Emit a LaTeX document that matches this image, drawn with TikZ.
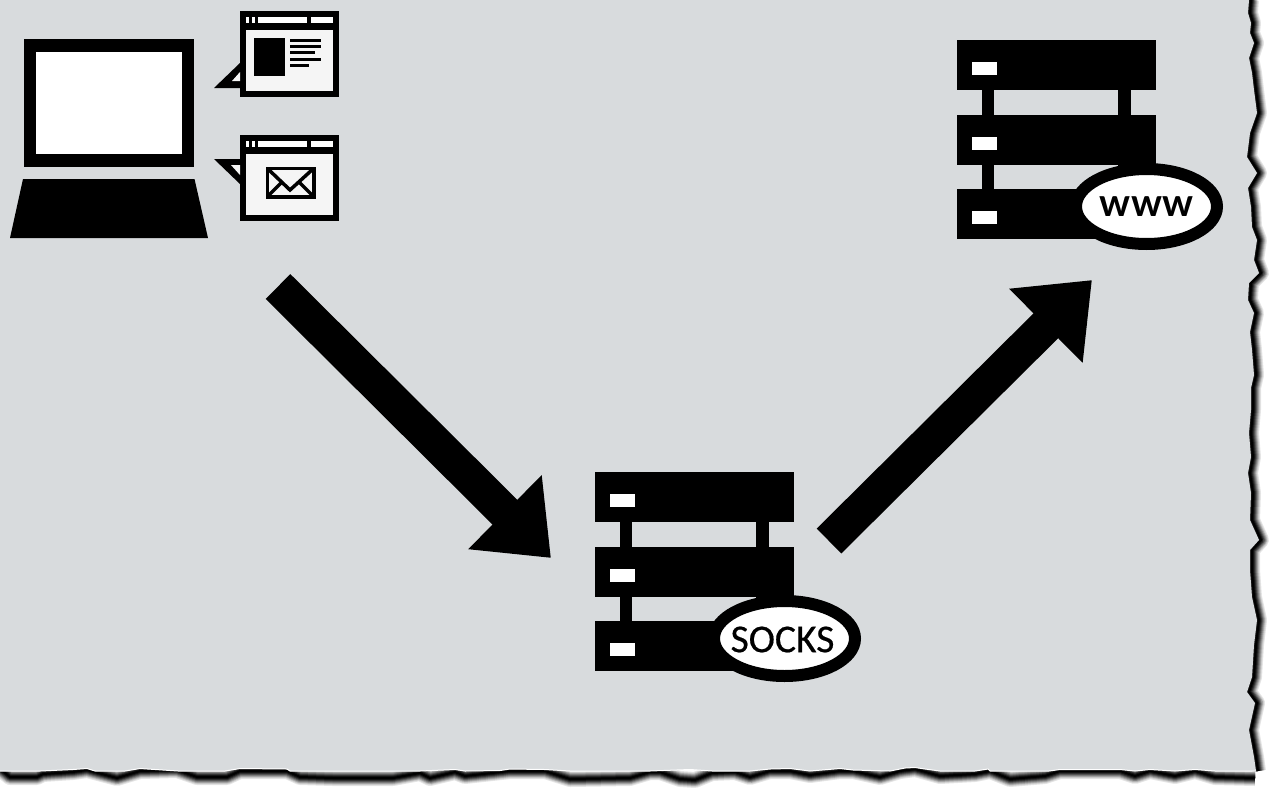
\documentclass[tikz,border=0pt]{standalone}
\usepackage{fontspec}
\setmainfont{Lato}
\newfontfamily\badgefont[FakeBold=0.5]{Carlito}
\usetikzlibrary{arrows.meta}
\usetikzlibrary{shapes.geometric}
\definecolor{paper}{HTML}{D8DBDD}
\definecolor{pane}{HTML}{F5F5F5}
\tikzset{x=.02cm, y=-.02cm,
 solid/.style={fill=black, draw=none},
 pane/.style={fill=pane, draw=none},
 bigarrow/.style={line width=.7cm, -{Triangle[length=1.3cm, width=2cm]}},
 badge/.style={ellipse, draw=black, fill=white, line width=.24cm, inner sep=0pt,
  minimum width=2.82cm, minimum height=1.5cm},
 }
% torn edge of the sheet, top right to bottom right
\newcommand{\rightedge}{(1249,0) -- (1248,13) -- (1251,23) -- (1250,33) -- (1254,43) -- (1249,58)
 -- (1252,73) -- (1254,90) -- (1257,113) -- (1250,133) -- (1247,157) -- (1257,173) -- (1248,188)
 -- (1251,207) -- (1252,227) -- (1257,240) -- (1254,260) -- (1259,273) -- (1249,283) -- (1248,300)
 -- (1254,313) -- (1250,332) -- (1252,350) -- (1254,375) -- (1251,388) -- (1251,410) -- (1249,433)
 -- (1251,457) -- (1248,473) -- (1251,493) -- (1250,520) -- (1259,540) -- (1250,550) -- (1250,570)
 -- (1252,597) -- (1257,620) -- (1254,645) -- (1252,677) -- (1247,692) -- (1255,703) -- (1249,730)
 -- (1254,757) -- (1256,771)}
\newcommand{\bottomedge}{(1256,771) -- (1215,771) -- (1195,769.5) -- (1175,771) -- (1150,769.5)
 -- (1135,771) -- (1120,769.5) -- (1060,769.5) -- (1049,771) -- (990,771) -- (988,769) -- (975,771)
 -- (940,771) -- (925,769) -- (915,767.5) -- (905,768) -- (890,771) -- (853,770) -- (840,768.5)
 -- (810,771) -- (790,768.5) -- (770,769) -- (750,771) -- (712,771) -- (690,769.5) -- (650,771)
 -- (570,771) -- (545,769.5) -- (510,769) -- (500,770.5) -- (465,771) -- (455,769.5) -- (420,771)
 -- (290,771) -- (287,769) -- (240,768.5) -- (225,771) -- (178,771) -- (140,768.5) -- (125,771)
 -- (95,771) -- (87,768.5) -- (73,769.5) -- (40,771) -- (0,771)}
% shadow under the bottom edge, left to right
\newcommand{\bottomshadow}{(0,769) -- (10,777) -- (37,777) -- (43,774) -- (73,772) -- (87,770)
 -- (117,778) -- (140,771) -- (177,770) -- (197,777) -- (227,777) -- (240,771) -- (287,771)
 -- (300,777) -- (333,778) -- (393,778) -- (420,773) -- (430,778) -- (455,772) -- (465,776)
 -- (510,771) -- (545,771) -- (570,779) -- (630,778) -- (650,772) -- (660,772) -- (680,779)
 -- (695,780) -- (712,773) -- (735,772) -- (750,777) -- (770,771) -- (790,771) -- (810,775)
 -- (840,771) -- (853,771) -- (880,777) -- (900,771) -- (915,769) -- (940,776) -- (975,774)
 -- (990,771) -- (1010,779) -- (1045,776) -- (1060,771) -- (1120,771) -- (1135,776) -- (1150,771)
 -- (1175,776) -- (1195,771) -- (1215,777) -- (1255,778)}
% browser window: frame, title bar and pane, top left at (#1,#2), #3 names it
\newcommand{\appwindow}[3]{
 \node[solid, minimum width=1.98cm, minimum height=1.72cm, inner sep=0pt, anchor=north west] (#3) at (#1,#2) {};
 \fill[pane] (#1+6,#2+19) rectangle (#1+93,#2+80);
 \fill[white] (#1+6,#2+6) rectangle (#1+9,#2+12);
 \fill[white] (#1+12,#2+6) rectangle (#1+15,#2+12);
 \fill[white] (#1+18,#2+6) rectangle (#1+67,#2+12);
 \fill[white] (#1+71,#2+6) rectangle (#1+93,#2+12);
}
% server rack with its badge, top left at (#1,#2), #3 names the badge
\newcommand{\rack}[3]{
 \fill (#1+25,#2+50) rectangle (#1+37,#2+149);
 \fill (#1+161,#2+50) rectangle (#1+174,#2+149);
 \foreach \gap in {0,75,149} {
  \fill (#1,#2+\gap) rectangle (#1+199,#2+\gap+50);
  \fill[white] (#1+15,#2+\gap+22) rectangle (#1+40,#2+\gap+35);
 }
 \node[badge] (#3) at (#1+189.5,#2+166.5) {};
}
\begin{document}
\begin{tikzpicture}
        \useasboundingbox (0,0) rectangle (1269,789);
        % sheet
        \foreach \w/\g in {16/10, 14/20, 12/35, 10/50, 8/65, 6/80, 4/92, 2/100} {
            \draw[black!\g, line width=\w*.02cm, line join=round] [shift={(2,0)}] \rightedge;
            \draw[black!\g, line width=\w*.02cm, line join=round] \bottomshadow;
        }
        \fill[paper] (0,0) -- \rightedge -- \bottomedge -- cycle;
        \draw[white, line width=.02cm] \bottomedge;
        % laptop
        \node[draw=black, fill=white, line width=.25cm, minimum width=3.16cm, minimum height=2.3cm, inner sep=0pt] (screen) at (109,103) {};
        \fill (23,179) -- (194.5,179) -- (208,238) -- (10,238) -- cycle;
        % web page window
        \appwindow{240}{11}{webwin}
        \fill (214,88) -- (240,63) -- (240,88) -- cycle;
        \fill[pane] (232,81) -- (240,72) -- (240,81) -- cycle;
        \fill (254,38) rectangle (285,76);
        \foreach \ly/\lx in {40/321, 46/321, 52/315, 59/321, 65/309} {
            \fill (290,\ly-1.5) rectangle (\lx,\ly+1.5);
        }
        % mail window
        \appwindow{240}{135}{mailwin}
        \fill (214,159) -- (240,159) -- (240,184) -- cycle;
        \fill[pane] (231,165) -- (240,165) -- (240,175) -- cycle;
        \draw[line width=.07cm] (267.5,168.5) rectangle (314,197);
        \draw[line width=.07cm] (268,169) -- (290,190) -- (313,169);
        \draw[line width=.07cm] (268,196) -- (282,182);
        \draw[line width=.07cm] (313,196) -- (299,182);
        % servers
        \rack{957}{40}{wwwbadge}
        \node[font=\fontsize{22}{24}\bfseries\selectfont] (wwwtext) at (wwwbadge) {www};
        \rack{595}{472}{socksbadge}
        \node[font=\badgefont\fontsize{22.5}{24}\selectfont] (sockstext) at ([shift={(-2,1)}]socksbadge) {SOCKS};
        % arrows
        \coordinate (laptopout) at (278,286.5);
        \coordinate (socksin) at (551,558);
        \coordinate (socksout) at (829,541);
        \coordinate (wwwin) at (1092,280);
        \draw[bigarrow] (laptopout) -- (socksin);
        \draw[bigarrow] (socksout) -- (wwwin);
    \end{tikzpicture}
\end{document}
